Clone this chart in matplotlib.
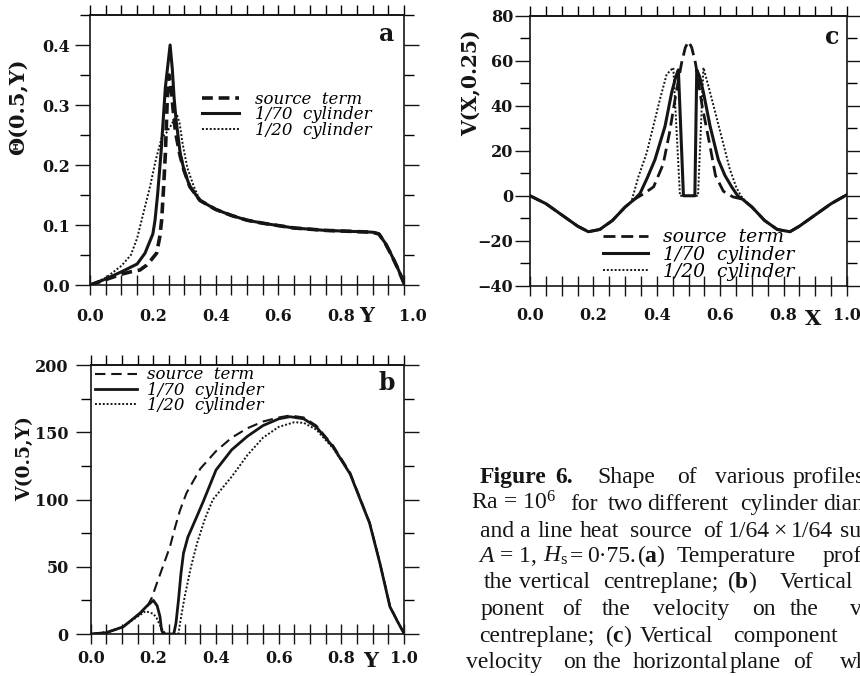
import matplotlib.pyplot as plt
from matplotlib.ticker import MultipleLocator, FuncFormatter

# ---------------- data ----------------
labels = ["source  term", "1/70  cylinder", "1/20  cylinder"]

# (a) temperature on the vertical centreplane, shared tail for Y > 0.35
a_tail_y = [0.35, 0.40, 0.45, 0.50, 0.55, 0.60, 0.65, 0.70, 0.75, 0.80, 0.85,
            0.90, 0.92, 0.94, 0.96, 0.98, 1.0]
a_tail_t = [0.141, 0.126, 0.116, 0.108, 0.103, 0.099, 0.095, 0.093, 0.091,
            0.090, 0.089, 0.088, 0.085, 0.070, 0.050, 0.028, 0.003]

a_src_y = [0.0, 0.05, 0.10, 0.13, 0.159, 0.18, 0.195, 0.212, 0.222, 0.228,
           0.234, 0.240, 0.246, 0.252, 0.258, 0.265, 0.272, 0.287, 0.30, 0.318]
a_src_t = [0.0, 0.009, 0.018, 0.022, 0.025, 0.033, 0.042, 0.053, 0.080, 0.108,
           0.160, 0.220, 0.310, 0.350, 0.330, 0.290, 0.255, 0.215, 0.190, 0.164]

a_c70_y = [0.0, 0.05, 0.10, 0.15, 0.175, 0.20, 0.207, 0.215, 0.226, 0.24,
           0.255, 0.262, 0.268, 0.274, 0.287, 0.30, 0.318]
a_c70_t = [0.0, 0.010, 0.022, 0.035, 0.053, 0.085, 0.108, 0.150, 0.220, 0.330,
           0.400, 0.360, 0.310, 0.275, 0.220, 0.190, 0.164]

a_c20_y = [0.0, 0.05, 0.10, 0.13, 0.15, 0.17, 0.191, 0.21, 0.228, 0.245,
           0.26, 0.276, 0.285, 0.295, 0.31, 0.33]
a_c20_t = [0.0, 0.012, 0.032, 0.050, 0.078, 0.120, 0.164, 0.210, 0.245, 0.255,
           0.268, 0.285, 0.270, 0.235, 0.195, 0.165]

# (b) vertical velocity on the vertical centreplane
b_src_y = [0.0, 0.05, 0.10, 0.157, 0.179, 0.195, 0.21, 0.23, 0.253, 0.27, 0.285,
           0.306, 0.35, 0.40, 0.45, 0.50, 0.55, 0.60, 0.636, 0.68, 0.72, 0.774,
           0.828, 0.89, 0.923, 0.955, 0.98, 1.0]
b_src_v = [0, 1, 5, 15, 20, 27, 37, 50, 65, 80, 92, 105, 123, 136, 146, 153,
           158, 161, 162.5, 161, 155, 140, 120, 83, 53, 21, 9, 0.5]

b_c70_y = [0.0, 0.05, 0.104, 0.157, 0.18, 0.20, 0.212, 0.221, 0.226, 0.232,
           0.25, 0.265, 0.272, 0.28, 0.288, 0.296, 0.31, 0.338, 0.36, 0.40,
           0.45, 0.50, 0.55, 0.60, 0.636, 0.68, 0.72, 0.774, 0.828, 0.89,
           0.923, 0.955, 0.98, 1.0]
b_c70_v = [0, 1, 5.4, 15.5, 21, 25, 21, 13, 3, 0, 0, 0, 8, 25, 45, 60, 72, 87,
           99, 122, 137, 147, 155, 160, 161.6, 160, 154, 139, 119, 82.5, 52.6,
           20.3, 9, 0.5]

b_c20_y = [0.0, 0.05, 0.10, 0.15, 0.175, 0.20, 0.21, 0.22, 0.232, 0.24, 0.28,
           0.285, 0.30, 0.32, 0.34, 0.365, 0.39, 0.45, 0.50, 0.55, 0.60, 0.65,
           0.68, 0.72, 0.774, 0.828, 0.89, 0.923, 0.955, 0.98, 1.0]
b_c20_v = [0, 1.5, 5, 13, 17, 15, 12, 7, 2, 0, 0, 8, 28, 50, 68, 86, 100, 117,
           133, 146, 154, 157.5, 157, 152, 138, 119, 82.5, 52.6, 20.3, 9, 0.5]

# (c) vertical velocity on the horizontal plane Y = 0.25, shared outer parts
c_left_x = [0.0, 0.05, 0.10, 0.15, 0.184, 0.22, 0.26, 0.30]
c_left_v = [0.0, -3.5, -8.5, -13.5, -16.0, -15.0, -11.0, -5.0]
c_right_x = [0.70, 0.74, 0.78, 0.82, 0.85, 0.90, 0.95, 1.0]
c_right_v = [-5.0, -11.0, -15.0, -16.0, -13.5, -8.5, -3.5, 0.5]

c_src_x = [0.33, 0.36, 0.39, 0.42, 0.44, 0.46, 0.478, 0.49, 0.50, 0.51, 0.522,
           0.543, 0.568, 0.585, 0.61, 0.64, 0.67]
c_src_v = [-1.5, 1, 4, 14, 28, 45, 59, 66, 68.6, 66, 59, 40, 22, 9, 2, -0.5, -1.5]

c_c70_x = [0.33, 0.347, 0.37, 0.394, 0.426, 0.447, 0.46, 0.468, 0.484, 0.52,
           0.526, 0.535, 0.547, 0.568, 0.594, 0.615, 0.636, 0.655, 0.67]
c_c70_v = [-1.5, 1, 8, 16, 31, 46, 53, 56, 0, 0, 56, 53, 46, 31, 16, 9, 4, 0, -1.5]

c_c20_x = [0.32, 0.342, 0.368, 0.389, 0.41, 0.431, 0.452, 0.473, 0.53, 0.547,
           0.568, 0.59, 0.61, 0.63, 0.65, 0.665, 0.68]
c_c20_v = [-2.5, 8.5, 19, 31, 43, 54, 57, 0, 0, 57, 46, 34, 23, 12, 4, 0, -2.5]

# ---------------- figure ----------------
plt.rcParams['font.family'] = 'DejaVu Serif'
plt.rcParams['mathtext.fontset'] = 'custom'
plt.rcParams['mathtext.rm'] = 'Liberation Serif'
plt.rcParams['mathtext.it'] = 'Liberation Serif:italic'
plt.rcParams['mathtext.bf'] = 'Liberation Serif:bold'

ink = '#151515'
fig = plt.figure(figsize=(8.6, 6.76), dpi=100)
ax_a = fig.add_axes([0.1047, 0.5784, 0.3651, 0.3994])
ax_c = fig.add_axes([0.6163, 0.5774, 0.3686, 0.3990])
ax_b = fig.add_axes([0.1055, 0.0621, 0.3643, 0.3979])


def yfmt(dec):
    return FuncFormatter(lambda v, p: f"{v:.{dec}f}".replace('-', '\u2212'))


def style(ax, ymaj, ymin, dec, xpad, ypad, last_x='1.0'):
    ax.set_xlim(0, 1)
    ax.xaxis.set_major_locator(MultipleLocator(0.2))
    ax.xaxis.set_minor_locator(MultipleLocator(0.05))
    ax.xaxis.set_major_formatter(
        FuncFormatter(lambda v, p: last_x if v > 0.99 else f"{v:.1f}"))
    ax.yaxis.set_major_locator(MultipleLocator(ymaj))
    ax.yaxis.set_minor_locator(MultipleLocator(ymin))
    ax.yaxis.set_major_formatter(yfmt(dec))
    ax.tick_params(axis='x', which='both', direction='inout', length=14,
                   width=1, top=False, pad=xpad, colors=ink)
    ax.tick_params(axis='y', which='major', direction='out', length=10.8,
                   width=1, right=True, pad=ypad, colors=ink)
    ax.tick_params(axis='y', which='minor', direction='out', length=7.2,
                   width=1, right=True)
    ax.tick_params(labelsize=11.5)
    for lab in ax.get_xticklabels() + ax.get_yticklabels():
        lab.set_fontweight('bold')
    top = ax.secondary_xaxis('top')
    top.xaxis.set_major_locator(MultipleLocator(0.05))
    top.tick_params(direction='out', length=7, width=1, labeltop=False)
    for sp in list(ax.spines.values()) + list(top.spines.values()):
        sp.set_linewidth(1.2)
        sp.set_color(ink)


def draw(ax, xs, ys, lw_s, lw_d, dash):
    ax.plot(xs[0], ys[0], color=ink, lw=lw_d, dashes=dash, label=labels[0])
    ax.plot(xs[1], ys[1], color=ink, lw=lw_s, label=labels[1])
    ax.plot(xs[2], ys[2], color=ink, lw=1.4, dashes=(1, 1), label=labels[2])


# panel a
draw(ax_a,
     [a_src_y + a_tail_y, a_c70_y + a_tail_y, a_c20_y + a_tail_y],
     [a_src_t + a_tail_t, a_c70_t + a_tail_t, a_c20_t + a_tail_t],
     2.2, 2.6, (3, 1.6))
ax_a.set_ylim(0, 0.45)
style(ax_a, 0.1, 0.05, 1, 9.4, 3.6, last_x='   1.0')

# panel b
draw(ax_b,
     [b_src_y, b_c70_y, b_c20_y],
     [b_src_v, b_c70_v, b_c20_v],
     2.0, 1.5, (5, 2.8))
ax_b.set_ylim(0, 200)
style(ax_b, 50, 25, 0, 4.3, 5)

# panel c
draw(ax_c,
     [c_left_x + c_src_x + c_right_x, c_left_x + c_c70_x + c_right_x,
      c_left_x + c_c20_x + c_right_x],
     [c_left_v + c_src_v + c_right_v, c_left_v + c_c70_v + c_right_v,
      c_left_v + c_c20_v + c_right_v],
     2.2, 2.0, (4.3, 2.1))
ax_c.set_ylim(-40, 80)
style(ax_c, 20, 10, 0, 8.5, 1.4)

# axis names, panel letters, legends
name_kw = dict(fontweight='bold', color=ink, ha='center', va='center')
ax_a.text(-0.229, 0.66, 'Θ(0.5,Y)', rotation=90, fontsize=15, transform=ax_a.transAxes, **name_kw)
ax_b.text(-0.208, 0.654, 'V(0.5,Y)', rotation=90, fontsize=13.5, transform=ax_b.transAxes, **name_kw)
ax_c.text(-0.186, 0.752, 'V(X,0.25)', rotation=90, fontsize=14.5, transform=ax_c.transAxes, **name_kw)
ax_a.text(0.882, -0.115, 'Y', fontsize=15, transform=ax_a.transAxes, **name_kw)
ax_b.text(0.893, -0.10, 'Y', fontsize=15, transform=ax_b.transAxes, **name_kw)
ax_c.text(0.894, -0.122, 'X', fontsize=15, transform=ax_c.transAxes, **name_kw)
ax_a.text(0.943, 0.930, 'a', fontsize=17, transform=ax_a.transAxes, **name_kw)
ax_b.text(0.946, 0.933, 'b', fontsize=17, transform=ax_b.transAxes, **name_kw)
ax_c.text(0.953, 0.922, 'c', fontsize=17, transform=ax_c.transAxes, **name_kw)

leg_prop = {'family': 'DejaVu Serif', 'style': 'italic', 'size': 12}
ax_a.legend(loc='upper left', bbox_to_anchor=(0.357, 0.72), frameon=False,
            prop=leg_prop, handlelength=2.2, handletextpad=1.0,
            labelspacing=-0.08, borderpad=0, borderaxespad=0)
ax_b.legend(loc='upper left', bbox_to_anchor=(0.014, 0.995), frameon=False,
            prop=leg_prop, handlelength=2.5, handletextpad=0.6,
            labelspacing=-0.1, borderpad=0, borderaxespad=0)
ax_c.legend(loc='upper left', bbox_to_anchor=(0.23, 0.212), frameon=False,
            prop=dict(leg_prop, size=13.5), handlelength=2.4, handletextpad=0.8,
            labelspacing=-0.04, borderpad=0, borderaxespad=0)

# caption (justified block, cut by the right edge of the page)
caption = [
    (483, [(546, 'Figure', 'right', 'bold'), (555, '6.', 'left', 'bold'),
           (597, 'Shape', 'left', 'normal'), (677, 'of', 'left', 'normal'),
           (715, 'various', 'left', 'normal'), (793, 'profiles', 'left', 'normal')]),
    (510, [(556, 'Ra = 10$^{6}$', 'right', 'normal'), (570, 'for', 'left', 'normal'),
           (608, 'two', 'left', 'normal'), (647, 'different', 'left', 'normal'),
           (740, 'cylinder', 'left', 'normal'), (823, 'diameters', 'left', 'normal')]),
    (537, [(531, 'and a', 'right', 'normal'), (537, 'line', 'left', 'normal'),
           (580, 'heat', 'left', 'normal'), (630, 'source', 'left', 'normal'),
           (703, 'of', 'left', 'normal'), (728, '1/64', 'left', 'normal'),
           (773, '×', 'left', 'normal'), (791, '1/64', 'left', 'normal'),
           (840, 'surface', 'left', 'normal')]),
    (562, [(537, '$A$ = 1,', 'right', 'normal'), (543, '$H_{\\rm s}$', 'left', 'normal'),
           (570, '=', 'left', 'normal'), (587, '0·75.', 'left', 'normal'),
           (637, '($\\mathbf{a}$)', 'left', 'normal'), (677, 'Temperature', 'left', 'normal'),
           (823, 'profile', 'left', 'normal')]),
    (588, [(513, 'the', 'right', 'normal'), (519, 'vertical', 'left', 'normal'),
           (603, 'centreplane;', 'left', 'normal'), (727, '($\\mathbf{b}$)', 'left', 'normal'),
           (780, 'Vertical', 'left', 'normal')]),
    (615, [(545, 'ponent', 'right', 'normal'), (562, 'of', 'left', 'normal'),
           (602, 'the', 'left', 'normal'), (653, 'velocity', 'left', 'normal'),
           (752, 'on', 'left', 'normal'), (790, 'the', 'left', 'normal'),
           (850, 'vertical', 'left', 'normal')]),
    (642, [(594, 'centreplane;', 'right', 'normal'), (605, '($\\mathbf{c}$)', 'left', 'normal'),
           (640, 'Vertical', 'left', 'normal'), (733, 'component', 'left', 'normal')]),
    (668, [(542, 'velocity', 'right', 'normal'), (563, 'on', 'left', 'normal'),
           (593, 'the', 'left', 'normal'), (633, 'horizontal', 'left', 'normal'),
           (730, 'plane', 'left', 'normal'), (793, 'of', 'left', 'normal'),
           (840, 'which', 'left', 'normal')]),
]
W, H = 860, 676
for base, words in caption:
    for x, word, ha, wt in words:
        fig.text(x / W, 1 - base / H, word, ha=ha, va='baseline',
                 family='Liberation Serif', fontsize=17, fontweight=wt, color=ink)

fig.savefig('out.png', dpi=100, facecolor='white')
